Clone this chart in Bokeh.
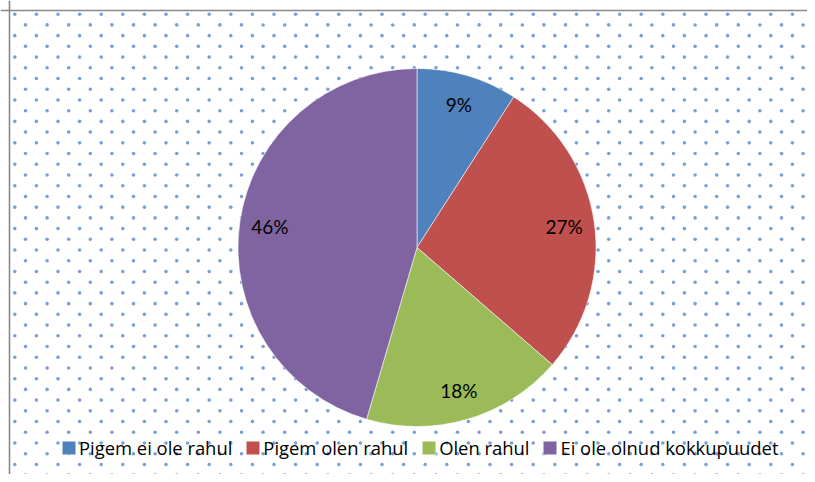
import numpy as np
from bokeh.plotting import figure
from bokeh.models import Range1d, ColumnDataSource, Legend, LegendItem, Span
from bokeh.core.properties import value
from bokeh.embed import file_html
from bokeh.resources import INLINE

categories = ["Pigem ei ole rahul", "Pigem olen rahul", "Olen rahul", "Ei ole olnud kokkupuudet"]
shares = [9.1, 27.3, 18.2, 45.5]
labels = ["9%", "27%", "18%", "46%"]
colors = ["#4F81BD", "#C0504D", "#9BBB59", "#8064A2"]

W, H = 807, 474
p = figure(width=W, height=H, x_range=Range1d(0, W), y_range=Range1d(0, H),
           min_border=0, toolbar_location=None, output_backend="svg",
           outline_line_color=None, background_fill_color="white",
           border_fill_color="white")
p.axis.visible = False
p.grid.visible = False

# dotted background pattern (decoration)
dx, dy = 21.6, 10.72
xs, ys = [], []
for i, sy in enumerate(np.arange(13.7, 482, dy)):
    x0 = 14.3 if i % 2 == 0 else 25.0
    for sx in np.arange(x0, 816, dx):
        xs.append(sx)
        ys.append(H - sy)
p.scatter(xs, ys, size=3.6, color="#5587CF", alpha=0.8, line_color=None)

# border (left / top)
p.add_layout(Span(location=9, dimension="height", line_color="#898989", line_width=1.6))
p.add_layout(Span(location=H - 10, dimension="width", line_color="#898989", line_width=1.6))

# pie
cx, cy, R = 416.5, H - 247.0, 179.0
vals = np.array(shares, dtype=float)
frac = vals / vals.sum()
cum = np.concatenate([[0], np.cumsum(frac)])
start = np.pi / 2 - cum[:-1] * 2 * np.pi
end = np.pi / 2 - cum[1:] * 2 * np.pi
mid = (start + end) / 2
src = ColumnDataSource(dict(cat=categories, start=start, end=end, color=colors,
                            lx=cx + 0.83 * R * np.cos(mid), ly=cy + 0.83 * R * np.sin(mid),
                            lab=labels))
wr = p.wedge(x=cx, y=cy, radius=R, start_angle="start", end_angle="end",
             direction="clock", fill_color="color", line_color="white",
             line_width=0.8, line_alpha=0.7, source=src)
p.text(x="lx", y="ly", text="lab", source=src, text_align="center",
       text_baseline="middle", text_font=value("Lato"), text_font_size="19px",
       text_color="black")

items = [LegendItem(label=c, renderers=[wr], index=i) for i, c in enumerate(categories)]
legend = Legend(items=items, orientation="horizontal", location=(60, 14),
                glyph_width=17, glyph_height=17, label_standoff=2, spacing=12,
                padding=0, margin=0, label_height=20,
                label_text_font="Open Sans", label_text_font_size="18.4px",
                label_text_color="black", background_fill_alpha=0,
                border_line_alpha=0)
p.add_layout(legend)

open("out.html", "w").write(file_html(p, INLINE))
